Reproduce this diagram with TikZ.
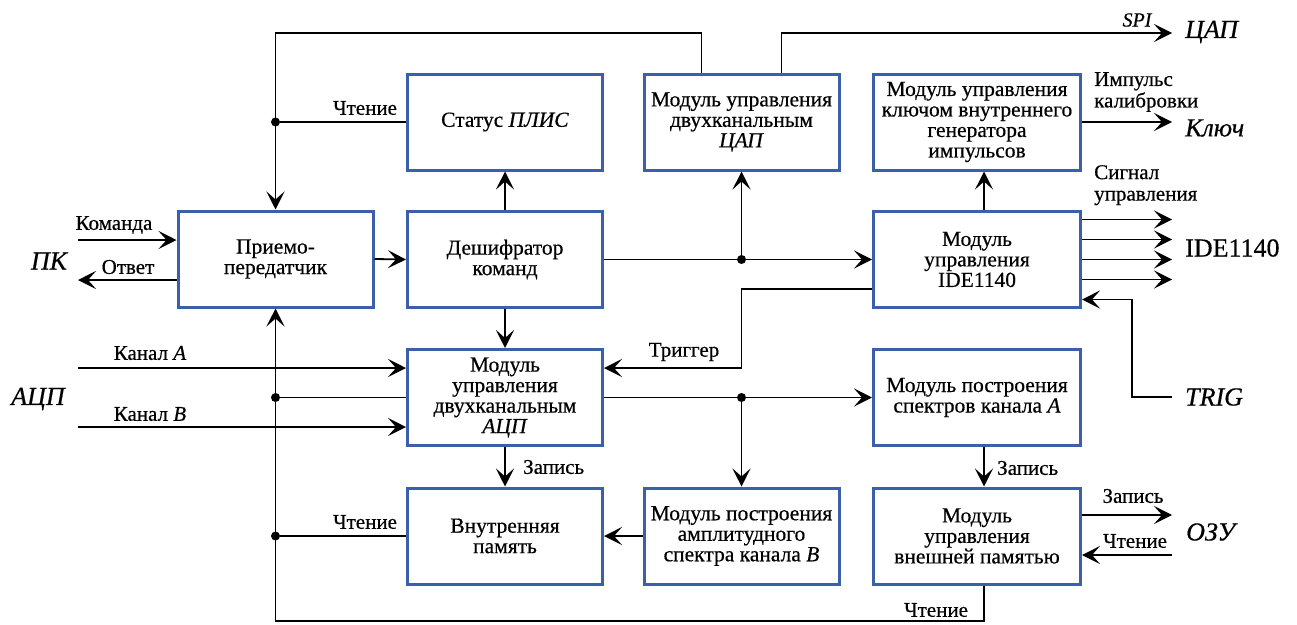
\documentclass[tikz,border=0pt]{standalone}
\usepackage{fontspec}
\setmainfont{Liberation Serif}[FakeBold=0.5]
\usetikzlibrary{arrows.meta,calc}
\definecolor{boxblue}{RGB}{60,95,170}
\begin{document}
\begin{tikzpicture}[x=1pt,y=-1pt,
  box/.style={draw=boxblue,line width=3pt,minimum width=195pt,minimum height=96pt,align=center,inner sep=2pt,font=\fontsize{21.5}{20.5}\selectfont},
  widebox/.style={box,minimum width=207pt},
  arr/.style={line width=1.8pt,-{Stealth[length=18pt,width=18pt,inset=8pt]}},
  ln/.style={line width=1.8pt},
  lbl/.style={font=\fontsize{21}{21.5}\selectfont,inner sep=0pt,align=left},
  big/.style={font=\fontsize{26}{28}\selectfont\itshape,inner sep=0pt},
  bigup/.style={font=\fontsize{26}{28}\selectfont,inner sep=0pt},
  dot/.style={circle,fill=black,inner sep=0pt,minimum size=9pt}
]
\useasboundingbox (0,0) rectangle (1297,624);
% boxes
\node[box] (pp) at (275.5,259) {Приемо-\\передатчик};
\node[box] (status) at (505,122) {Статус \textit{ПЛИС}};
\node[box] (dec) at (505,259.5) {Дешифратор\\команд};
\node[box] (dac) at (741.5,122) {Модуль управления\\двухканальным\\\textit{ЦАП}};
\node[widebox] (key) at (977,122) {Модуль управления\\ключом внутреннего\\генератора\\импульсов};
\node[widebox] (ide) at (977,259.5) {Модуль\\управления\\IDE1140};
\node[box] (adc) at (505,397.5) {Модуль\\управления\\двухканальным\\\textit{АЦП}};
\node[widebox] (specA) at (977,397.5) {Модуль построения\\спектров канала \textit{A}};
\node[box] (mem) at (505,536) {Внутренняя\\память};
\node[box] (specB) at (741.5,536) {Модуль построения\\амплитудного\\спектра канала \textit{B}};
\node[widebox] (ext) at (977,536) {Модуль\\управления\\внешней памятью};
% free ends
\coordinate (pkin) at (78,240);
\coordinate (pkout) at (78,280);
\coordinate (topbus) at (275.5,33);
\coordinate (spiend) at (1172,33);
\coordinate (keyend) at (1172,122);
\coordinate (ideend) at (1172,259.5);
\coordinate (trig) at (1172,397);
\coordinate (ozuw) at (1172,515);
\coordinate (ozur) at (1172,555);
\coordinate (chA) at (78,368);
\coordinate (chB) at (78,427);
\coordinate (botbus) at (275.5,621);
% connectors
\draw[arr] (pkin) -- (pkin -| pp.west);
\draw[arr] (pkout -| pp.west) -- (pkout);
\draw[arr] (pp.east) -- (dec.west);
\draw[arr] (dec.north) -- (status.south);
\draw[arr] ($(dac.north)+(-40,0)$) |- (topbus) -- (pp.north);
\node[dot] (d1) at (pp.north |- status.west) {};
\draw[ln] (d1) -- (status.west);
\draw[arr] ($(dac.north)+(40,0)$) |- (spiend);
\draw[arr] (key.east) -- (key.east -| keyend);
\draw[arr] (dec.east) -- (ide.west);
\node[dot] (d2) at (dac.south |- dec.east) {};
\draw[arr] (d2) -- (dac.south);
\draw[arr] ($(ide.north)+(7,0)$) -- ($(key.south)+(7,0)$);
\foreach \dy in {-40,-20,0,20} \draw[arr] ($(ide.east)+(0,\dy)$) -- ($(ide.east -| ideend)+(0,\dy)$);
\draw[arr] (trig) -| ($(ide.east)+(50,40)$) -- ($(ide.east)+(0,40)$);
\draw[arr] ($(ide.west)+(0,29.5)$) -| ($(d2 |- adc.east)+(0,-29.5)$) -- ($(adc.east)+(0,-29.5)$);
\draw[arr] (dec.south) -- (adc.north);
\draw[arr] (chA) -- (chA -| adc.west);
\draw[arr] (chB) -- (chB -| adc.west);
\node[dot] (d3) at (pp.north |- adc.west) {};
\draw[ln] (d3) -- (adc.west);
\draw[arr] (adc.east) -- (specA.west);
\node[dot] (d4) at (dac.south |- adc.east) {};
\draw[arr] (d4) -- (specB.north);
\draw[arr] (adc.south) -- (mem.north);
\draw[arr] (specB.west) -- (mem.east);
\draw[arr] ($(specA.south)+(7,0)$) -- ($(ext.north)+(7,0)$);
\draw[arr] (ext.east |- ozuw) -- (ozuw);
\draw[arr] (ozur) -- (ozur -| ext.east);
\node[dot] (d5) at (pp.north |- mem.west) {};
\draw[ln] (d5) -- (mem.west);
\draw[arr] ($(ext.south)+(7,0)$) |- (botbus) -- (pp.south);
% labels
\node[lbl] (lcmd) at (114,225) {Команда};
\node[lbl] (lans) at (128,267) {Ответ};
\node[big] (lpk) at (49,261) {ПК};
\node[lbl] (lrd1) at (365,108) {Чтение};
\node[lbl] (lrd2) at (365,522) {Чтение};
\node[lbl,font=\fontsize{20}{20}\selectfont\itshape] (lspi) at (1137,20) {SPI};
\node[big,anchor=west] (ldac) at (1185,32) {ЦАП};
\node[lbl,anchor=north west] (limp) at (1094,72) {Импульс\\калибровки};
\node[big,anchor=west] (lkey) at (1185,128) {Ключ};
\node[lbl,anchor=north west] (lsig) at (1094,165) {Сигнал\\управления};
\node[bigup,anchor=west] (lide) at (1185,248) {IDE1140};
\node[lbl] (ltrg) at (684,352) {Триггер};
\node[big,anchor=west] (ltrig) at (1185,397) {TRIG};
\node[big] (ladc) at (38,399) {АЦП};
\node[lbl] (lcha) at (150,353) {Канал \textit{A}};
\node[lbl] (lchb) at (150,414) {Канал \textit{B}};
\node[lbl,anchor=west] (lwr1) at (523,467) {Запись};
\node[lbl,anchor=west] (lwr2) at (997,468) {Запись};
\node[lbl] (lwr3) at (1133,496) {Запись};
\node[lbl] (lrd3) at (1135,541) {Чтение};
\node[big,anchor=west] (lozu) at (1186,532) {ОЗУ};
\node[lbl] (lrd4) at (936,610) {Чтение};
\end{tikzpicture}
\end{document}
